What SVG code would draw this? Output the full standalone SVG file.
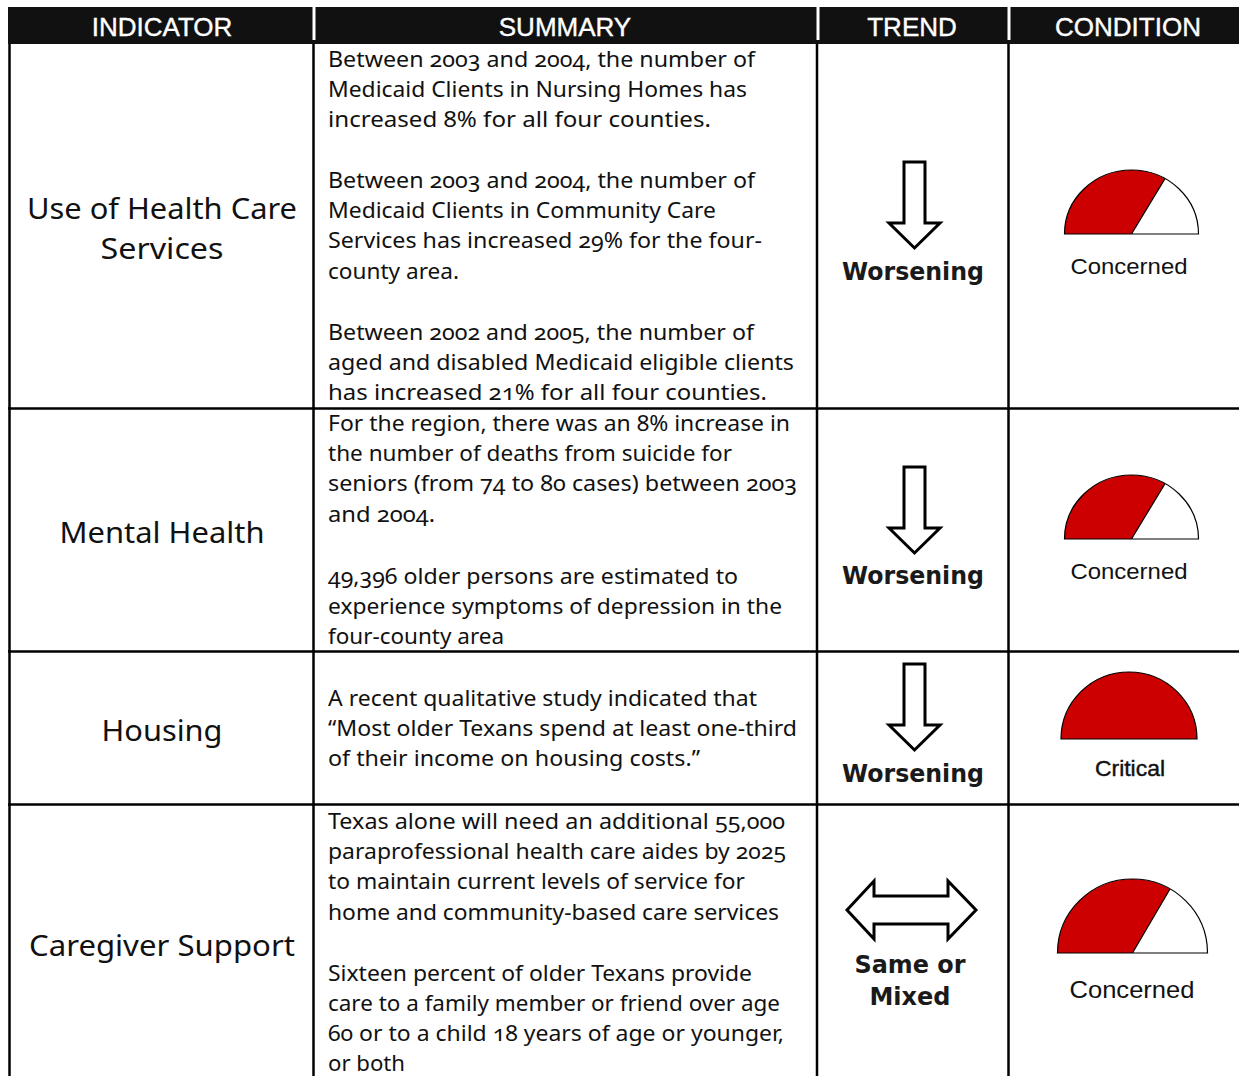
<svg xmlns="http://www.w3.org/2000/svg" width="1239" height="1076" viewBox="0 0 1239 1076">
<style>
.hdr{font-family:"Liberation Sans",Arial,sans-serif;font-size:26px;fill:#fff;stroke:#fff;stroke-width:0.4;text-anchor:middle}
.ind{font-family:"Noto Sans","Open Sans",sans-serif;font-size:29px;fill:#111;text-anchor:middle}
.sum{font-family:"Noto Sans","Open Sans",sans-serif;font-size:21px;fill:#111;font-variant-numeric:oldstyle-nums;font-feature-settings:"onum" 1}
.trend{font-family:"DejaVu Sans","Verdana",sans-serif;font-weight:bold;font-size:24px;fill:#1a1a1a;text-anchor:middle}
.cond{font-family:"Liberation Sans",Arial,sans-serif;font-size:22px;fill:#111;text-anchor:middle}
.grid{stroke:#000;stroke-width:2.5;fill:none}
.sep{stroke:#fff;stroke-width:3}
.arrow{fill:#fff;stroke:#000;stroke-width:3;stroke-linejoin:miter}
.red{fill:#cc0000;stroke:none}
.gout{fill:none;stroke:#000;stroke-width:1.2}
</style>
<defs>
<path id="downArrow" class="arrow" d="M904,162 H925 V223 H940 L914.5,248 L889,223 H904 Z"/>
</defs>
<rect width="1239" height="1076" fill="#fff"/>
<g id="header">
<rect x="8" y="7" width="1231" height="37" fill="#111"/>
<line class="sep" x1="314" y1="7" x2="314" y2="40"/>
<line class="sep" x1="818" y1="7" x2="818" y2="40"/>
<line class="sep" x1="1009" y1="7" x2="1009" y2="40"/>
<text class="hdr" x="162" y="36">INDICATOR</text>
<text class="hdr" x="565" y="36">SUMMARY</text>
<text class="hdr" x="912" y="36">TREND</text>
<text class="hdr" x="1128" y="36">CONDITION</text>
</g>
<g id="grid">
<line class="grid" x1="9.5" y1="44" x2="9.5" y2="1076"/>
<line class="grid" x1="313.5" y1="44" x2="313.5" y2="1076"/>
<line class="grid" x1="817" y1="44" x2="817" y2="1076"/>
<line class="grid" x1="1008.5" y1="44" x2="1008.5" y2="1076"/>
<line class="grid" x1="8" y1="408.5" x2="1239" y2="408.5"/>
<line class="grid" x1="8" y1="651.5" x2="1239" y2="651.5"/>
<line class="grid" x1="8" y1="804.5" x2="1239" y2="804.5"/>
</g>
<g id="row-health-care">
<text class="ind" x="162" y="219" textLength="270" lengthAdjust="spacingAndGlyphs">Use of Health Care</text>
<text class="ind" x="162" y="259" textLength="123" lengthAdjust="spacingAndGlyphs">Services</text>
<text class="sum" x="328" y="67" textLength="427" lengthAdjust="spacingAndGlyphs">Between 2003 and 2004, the number of</text>
<text class="sum" x="328" y="97" textLength="419" lengthAdjust="spacingAndGlyphs">Medicaid Clients in Nursing Homes has</text>
<text class="sum" x="328" y="127" textLength="383" lengthAdjust="spacingAndGlyphs">increased 8% for all four counties.</text>
<text class="sum" x="328" y="188" textLength="427" lengthAdjust="spacingAndGlyphs">Between 2003 and 2004, the number of</text>
<text class="sum" x="328" y="218" textLength="388" lengthAdjust="spacingAndGlyphs">Medicaid Clients in Community Care</text>
<text class="sum" x="328" y="248" textLength="434" lengthAdjust="spacingAndGlyphs">Services has increased 29% for the four-</text>
<text class="sum" x="328" y="279" textLength="131" lengthAdjust="spacingAndGlyphs">county area.</text>
<text class="sum" x="328" y="340" textLength="426" lengthAdjust="spacingAndGlyphs">Between 2002 and 2005, the number of</text>
<text class="sum" x="328" y="370" textLength="466" lengthAdjust="spacingAndGlyphs">aged and disabled Medicaid eligible clients</text>
<text class="sum" x="328" y="400" textLength="439" lengthAdjust="spacingAndGlyphs">has increased 21% for all four counties.</text>
<use href="#downArrow"/>
<text class="trend" x="913" y="280" textLength="142" lengthAdjust="spacingAndGlyphs">Worsening</text>
<path class="red" d="M1131.5,234 L1165,178.6 A67,64 0 0 0 1064.5,234 Z"/>
<path class="gout" d="M1064.5,234 A67,64 0 0 1 1198.5,234 Z M1131.5,234 L1165,178.6"/>
<text class="cond" x="1129" y="274" textLength="117" lengthAdjust="spacingAndGlyphs">Concerned</text>
</g>
<g id="row-mental-health">
<text class="ind" x="162" y="543" textLength="205" lengthAdjust="spacingAndGlyphs">Mental Health</text>
<text class="sum" x="328" y="431" textLength="462" lengthAdjust="spacingAndGlyphs">For the region, there was an 8% increase in</text>
<text class="sum" x="328" y="461" textLength="404" lengthAdjust="spacingAndGlyphs">the number of deaths from suicide for</text>
<text class="sum" x="328" y="491" textLength="469" lengthAdjust="spacingAndGlyphs">seniors (from 74 to 80 cases) between 2003</text>
<text class="sum" x="328" y="522" textLength="107" lengthAdjust="spacingAndGlyphs">and 2004.</text>
<text class="sum" x="328" y="584" textLength="410" lengthAdjust="spacingAndGlyphs">49,396 older persons are estimated to</text>
<text class="sum" x="328" y="614" textLength="454" lengthAdjust="spacingAndGlyphs">experience symptoms of depression in the</text>
<text class="sum" x="328" y="644" textLength="176" lengthAdjust="spacingAndGlyphs">four-county area</text>
<use href="#downArrow" transform="translate(0,305)"/>
<text class="trend" x="913" y="584" textLength="142" lengthAdjust="spacingAndGlyphs">Worsening</text>
<path class="red" d="M1131.5,539 L1165,483.6 A67,64 0 0 0 1064.5,539 Z"/>
<path class="gout" d="M1064.5,539 A67,64 0 0 1 1198.5,539 Z M1131.5,539 L1165,483.6"/>
<text class="cond" x="1129" y="579" textLength="117" lengthAdjust="spacingAndGlyphs">Concerned</text>
</g>
<g id="row-housing">
<text class="ind" x="162" y="741" textLength="121" lengthAdjust="spacingAndGlyphs">Housing</text>
<text class="sum" x="328" y="706" textLength="429" lengthAdjust="spacingAndGlyphs">A recent qualitative study indicated that</text>
<text class="sum" x="328" y="736" textLength="469" lengthAdjust="spacingAndGlyphs">“Most older Texans spend at least one-third</text>
<text class="sum" x="328" y="766" textLength="372" lengthAdjust="spacingAndGlyphs">of their income on housing costs.”</text>
<use href="#downArrow" transform="translate(0,502)"/>
<text class="trend" x="913" y="782" textLength="142" lengthAdjust="spacingAndGlyphs">Worsening</text>
<path class="red" d="M1061,739 A68,67 0 0 1 1197,739 Z"/>
<path class="gout" d="M1061,739 A68,67 0 0 1 1197,739 Z"/>
<text class="cond" x="1130" y="776" textLength="70" lengthAdjust="spacingAndGlyphs" style="stroke:#111;stroke-width:0.4">Critical</text>
</g>
<g id="row-caregiver">
<text class="ind" x="162" y="956" textLength="266" lengthAdjust="spacingAndGlyphs">Caregiver Support</text>
<text class="sum" x="328" y="829" textLength="457" lengthAdjust="spacingAndGlyphs">Texas alone will need an additional 55,000</text>
<text class="sum" x="328" y="859" textLength="458" lengthAdjust="spacingAndGlyphs">paraprofessional health care aides by 2025</text>
<text class="sum" x="328" y="889" textLength="417" lengthAdjust="spacingAndGlyphs">to maintain current levels of service for</text>
<text class="sum" x="328" y="920" textLength="451" lengthAdjust="spacingAndGlyphs">home and community-based care services</text>
<text class="sum" x="328" y="981" textLength="424" lengthAdjust="spacingAndGlyphs">Sixteen percent of older Texans provide</text>
<text class="sum" x="328" y="1011" textLength="452" lengthAdjust="spacingAndGlyphs">care to a family member or friend over age</text>
<text class="sum" x="328" y="1041" textLength="456" lengthAdjust="spacingAndGlyphs">60 or to a child 18 years of age or younger,</text>
<text class="sum" x="328" y="1071" textLength="77" lengthAdjust="spacingAndGlyphs">or both</text>
<path class="arrow" d="M847,910 L874,881 V896 H948 V881 L976,910 L948,939 V924 H874 V939 Z"/>
<text class="trend" x="910" y="973" textLength="111" lengthAdjust="spacingAndGlyphs">Same or</text>
<text class="trend" x="910" y="1005" textLength="81" lengthAdjust="spacingAndGlyphs">Mixed</text>
<path class="red" d="M1132.5,953 L1170,889 A75,74 0 0 0 1057.5,953 Z"/>
<path class="gout" d="M1057.5,953 A75,74 0 0 1 1207.5,953 Z M1132.5,953 L1170,889"/>
<text class="cond" x="1132" y="998" style="font-size:24px" textLength="125" lengthAdjust="spacingAndGlyphs">Concerned</text>
</g>
</svg>
